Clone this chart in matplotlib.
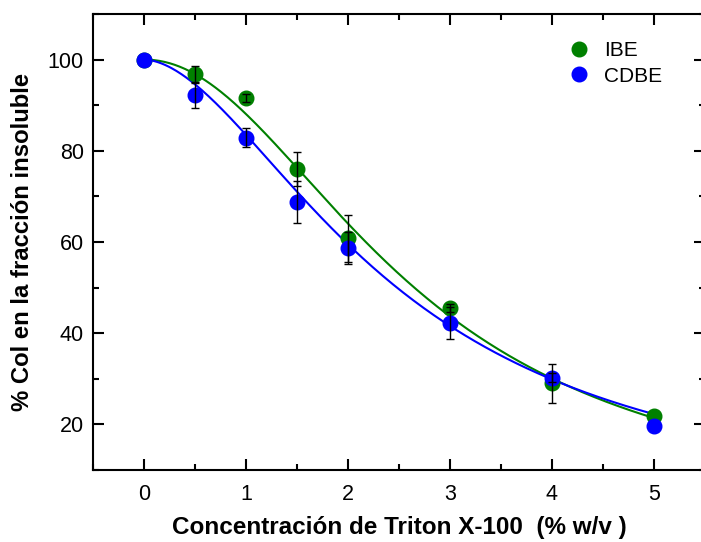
import numpy as np
import matplotlib.pyplot as plt

plt.rcParams['font.family'] = ['Liberation Sans', 'DejaVu Sans']

# data
conc = [0, 0.5, 1, 1.5, 2, 3, 4, 5]
ibe = [100, 96.8, 91.5, 76.0, 60.8, 45.5, 29.0, 21.8]
ibe_err = [0, 1.9, 0.9, 3.8, 5.2, 0.8, 4.2, 0]
cdbe = [100, 92.2, 82.9, 68.7, 58.7, 42.2, 30.2, 19.7]
cdbe_err = [0, 2.8, 2.1, 4.6, 3.5, 3.5, 1.0, 0]

# logistic fit parameters (A1, A2, x0, p)
ibe_fit = (100, 0, 2.65, 2.05)
cdbe_fit = (100, 0, 2.48, 1.785)

green = '#008000'
blue = '#0000ff'

def logistic(x, a1, a2, x0, p):
    return a2 + (a1 - a2) / (1 + (x / x0) ** p)

fig = plt.figure(figsize=(7.01, 5.42), dpi=100)
ax = fig.add_axes([93 / 701, 72 / 542, 612 / 701, 456 / 542])

xs = np.linspace(0, 5, 300)
ax.plot(xs, logistic(xs, *ibe_fit), color=green, lw=1.5, zorder=2)
ax.plot(xs, logistic(xs, *cdbe_fit), color=blue, lw=1.5, zorder=2)

ax.plot(conc, ibe, 'o', color=green, ms=10.5, label='IBE', zorder=3)
ax.plot(conc, cdbe, 'o', color=blue, ms=10.5, label='CDBE', zorder=4)

for y, e in [(ibe, ibe_err), (cdbe, cdbe_err)]:
    x_e = [c for c, v in zip(conc, e) if v > 0]
    y_e = [a for a, v in zip(y, e) if v > 0]
    v_e = [v for v in e if v > 0]
    ax.errorbar(x_e, y_e, yerr=v_e, fmt='none', ecolor='black', elinewidth=1,
                capsize=2.9, capthick=1, zorder=5)

ax.set_xlim(-0.5, 5.5)
ax.set_ylim(10, 110)
ax.set_xticks([0, 1, 2, 3, 4, 5])
ax.set_xticks(np.arange(-0.5, 5.6, 0.5), minor=True)
ax.set_yticks([20, 40, 60, 80, 100])
ax.set_yticks([10, 30, 50, 70, 90, 110], minor=True)

for s in ax.spines.values():
    s.set_linewidth(1.5)
ax.tick_params(which='both', direction='in', top=True, right=True, width=1.5)
ax.tick_params(which='major', length=8, labelsize=15.5)
ax.tick_params(which='minor', length=4)
ax.tick_params(axis='x', pad=10)
ax.tick_params(axis='y', pad=6.5)

ax.set_xlabel('Concentración de Triton X-100  (% w/v )', fontsize=17.5,
              fontweight='bold', labelpad=8)
ax.set_ylabel('% Col en la fracción insoluble', fontsize=17.2,
              fontweight='bold', labelpad=10)

ax.legend(loc='upper left', bbox_to_anchor=(0.752, 0.963), frameon=False,
          fontsize=15, handletextpad=0.45, labelspacing=0.3, borderpad=0,
          handlelength=1.5)

fig.savefig('out.png', dpi=100)
